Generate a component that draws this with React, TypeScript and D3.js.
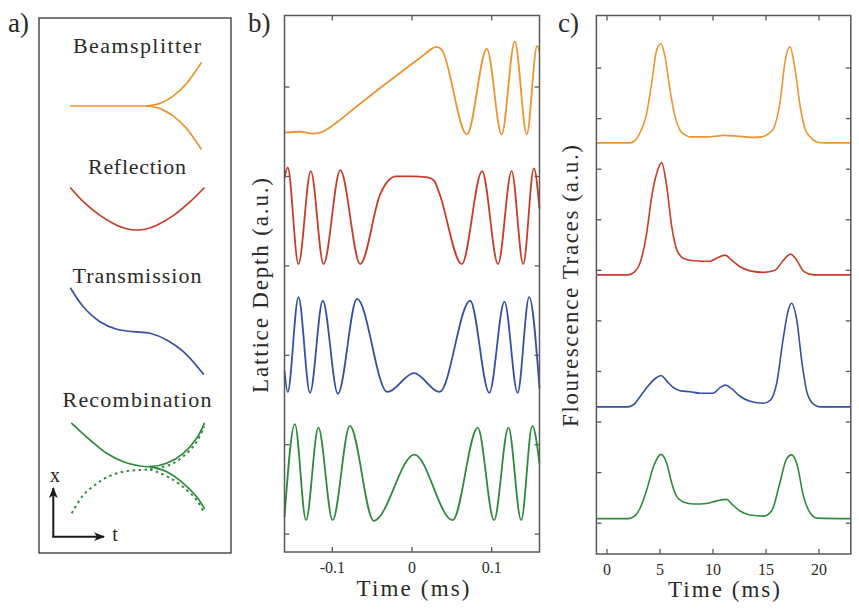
import React from "react";
import * as d3 from "d3";

type Pt = [number, number];

// ---------- Panel b: lattice depth traces (time in ms, depth in a.u.) ----------
const latticeTimeTicks = [-0.1, 0, 0.1];
const latticeTimeLabels = ["-0.1", "0", "0.1"];
const latticeDepthTicks = [0, 1, 2, 3, 4, 5];

const depthBeamsplitter: Pt[] = [
  [-0.16, 4.49], [-0.14, 4.5], [-0.125, 4.48], [-0.115, 4.49], [-0.108, 4.52], [-0.095, 4.6],
  [-0.07, 4.78], [-0.05, 4.92], [-0.025, 5.09], [0.0, 5.26], [0.015, 5.36],
  [0.025, 5.43], [0.031, 5.45], [0.037, 5.42], [0.069, 4.47], [0.094, 5.43],
  [0.1125, 4.47], [0.129, 5.51], [0.144, 4.47], [0.157, 5.46], [0.16, 5.4],
];
const depthReflection: Pt[] = [
  [-0.16, 3.98], [-0.156, 4.1], [-0.1425, 3.02], [-0.127, 4.06], [-0.111, 3.02],
  [-0.09, 4.07], [-0.065, 3.02], [-0.04, 3.8], [-0.03, 3.95], [-0.02, 4.0],
  [0.0, 4.0], [0.02, 3.99], [0.028, 3.95],
  [0.034, 3.82], [0.0625, 3.02], [0.088, 4.06], [0.108, 3.02], [0.125, 4.06],
  [0.1396, 3.02], [0.153, 4.09], [0.16, 3.64],
];
const depthTransmission: Pt[] = [
  [-0.16, 1.83], [-0.156, 1.59], [-0.1425, 2.65], [-0.128, 1.58], [-0.112, 2.61],
  [-0.093, 1.57], [-0.069, 2.63], [-0.031, 1.59], [0.0025, 1.8], [0.0346, 1.59],
  [0.073, 2.61], [0.097, 1.58], [0.116, 2.6], [0.1325, 1.58], [0.147, 2.65],
  [0.16, 1.63],
];
const depthRecombination: Pt[] = [
  [-0.16, 0.19], [-0.147, 1.23], [-0.133, 0.156], [-0.1175, 1.19], [-0.0996, 0.156],
  [-0.078, 1.21], [-0.048, 0.149], [0.003, 0.89], [0.051, 0.156], [0.0825, 1.19],
  [0.103, 0.156], [0.121, 1.19], [0.137, 0.156], [0.151, 1.21], [0.16, 0.79],
];

// ---------- Panel c: fluorescence traces (time in ms, signal in a.u.) ----------
const fluoTimeTicks = [0, 5, 10, 15, 20];
const fluoSignalTicks = [0, 1, 2, 3, 4, 5, 6, 7, 8, 9];

const fluoBeamsplitter: Pt[] = [
  [-1, 7.52], [1, 7.52], [2.2, 7.52], [2.7, 7.58], [3.2, 7.76], [3.74, 8.1],
  [4.21, 8.7], [4.69, 9.36], [5.1, 9.48], [5.47, 9.23], [5.94, 8.57], [6.42, 8.04],
  [6.89, 7.77], [7.36, 7.68], [7.83, 7.64], [9.5, 7.64], [10.5, 7.66], [11.0, 7.67],
  [12.0, 7.66], [13.0, 7.64], [14.0, 7.63], [14.6, 7.64], [15.07, 7.68], [15.7, 7.8],
  [16.32, 8.32], [16.79, 9.12], [17.26, 9.42], [17.74, 8.98], [18.21, 8.26],
  [18.68, 7.8], [19.15, 7.64], [19.78, 7.54], [20.5, 7.52], [23, 7.52],
];
const fluoReflection: Pt[] = [
  [-1, 4.91], [1, 4.91], [2.0, 4.91], [2.6, 4.97], [3.11, 5.14], [3.74, 5.73], [4.21, 6.45],
  [4.69, 6.92], [5.16, 7.13], [5.64, 6.65], [6.11, 5.86], [6.6, 5.4], [7.2, 5.24],
  [8.17, 5.19], [9.7, 5.18], [10.35, 5.24], [11.13, 5.3], [11.76, 5.2], [12.55, 5.07],
  [13.5, 4.99], [14.78, 4.96], [15.85, 5.0], [16.6, 5.19], [17.33, 5.32], [17.9, 5.2],
  [18.55, 4.98], [19.5, 4.91], [23, 4.91],
];
const fluoTransmission: Pt[] = [
  [-1, 2.3], [2.0, 2.3], [2.6, 2.36], [3.11, 2.5], [4.06, 2.76], [4.69, 2.88], [5.1, 2.92],
  [5.64, 2.81], [6.27, 2.68], [6.89, 2.62], [7.83, 2.6], [8.8, 2.57], [10.0, 2.57],
  [10.66, 2.68], [11.2, 2.73], [11.76, 2.66], [12.55, 2.51], [13.5, 2.41], [14.78, 2.37],
  [15.4, 2.43], [16.0, 2.76], [16.6, 3.62], [17.1, 4.21], [17.4, 4.35], [17.9, 4.02],
  [18.4, 3.16], [18.85, 2.6], [19.5, 2.35], [20.1, 2.3], [23, 2.3],
];
const fluoRecombination: Pt[] = [
  [-1, 0.09], [2.0, 0.09], [2.6, 0.14], [3.11, 0.29], [3.74, 0.65], [4.37, 1.11], [5.1, 1.36],
  [5.64, 1.18], [6.11, 0.79], [6.6, 0.52], [7.2, 0.42], [8.17, 0.38], [9.4, 0.39],
  [10.35, 0.44], [11.3, 0.47], [11.76, 0.38], [12.55, 0.24], [13.5, 0.16], [14.78, 0.14],
  [15.55, 0.25], [16.3, 0.79], [16.9, 1.25], [17.4, 1.35], [17.9, 1.18], [18.55, 0.52],
  [19.2, 0.19], [19.8, 0.1], [23, 0.09],
];

// ---------- Panel a: trajectory sketches (t from 0 to 1, displacement in units) ----------
const sketchSplitMain: Pt[] = [[0.005, 0], [0.573, 0]];
const sketchSplitUpper: Pt[] = [[0.573, 0], [0.67, 0.06], [0.767, 0.23], [0.864, 0.51], [0.976, 1.0]];
const sketchSplitLower: Pt[] = [[0.573, 0], [0.67, -0.06], [0.767, -0.23], [0.864, -0.51], [0.976, -1.0]];
const sketchReflection: Pt[] = [
  [0.005, 0.977], [0.099, 0.66], [0.223, 0.34], [0.348, 0.11], [0.42, 0.03], [0.497, 0],
  [0.575, 0.03], [0.646, 0.11], [0.771, 0.34], [0.895, 0.66], [0.998, 0.977],
];
const sketchTransmission: Pt[] = [
  [0.005, 1.01], [0.099, 0.58], [0.223, 0.233], [0.348, 0.056], [0.471, 0],
  [0.596, -0.037], [0.72, -0.193], [0.844, -0.465], [0.993, -0.984],
];
const sketchRecombUpper: Pt[] = [
  [0.013, 0.993], [0.149, 0.605], [0.273, 0.295], [0.397, 0.1], [0.521, 0],
  [0.596, -0.016], [0.72, 0.063], [0.844, 0.295], [0.943, 0.644], [1.0, 0.993],
];
const sketchRecombLower: Pt[] = [
  [0.596, -0.016], [0.72, -0.133], [0.844, -0.402], [0.943, -0.714], [1.0, -0.984],
];
const sketchMirrorArch: Pt[] = [
  [0.013, -1.1], [0.099, -0.674], [0.186, -0.442], [0.273, -0.263], [0.397, -0.133],
  [0.521, -0.093], [0.596, -0.081],
];
const sketchMirrorUpper: Pt[] = [
  [0.596, -0.081], [0.646, -0.053], [0.77, 0.063], [0.869, 0.295], [0.943, 0.565], [1.0, 0.914],
];
const sketchMirrorLower: Pt[] = [
  [0.596, -0.081], [0.646, -0.133], [0.77, -0.326], [0.869, -0.558], [0.943, -0.791], [1.0, -1.086],
];

const sketchLabels = ["Beamsplitter", "Reflection", "Transmission", "Recombination"];

const COLORS = ["#ED9431", "#C63D29", "#34509F", "#2E8A3D"];
const FRAME = "#585858";
const INK = "#2a2a2a";
const SERIF = '"Liberation Serif", serif';

export default function App() {
  // scales for panel b
  const xb = d3.scaleLinear().domain([-0.16, 0.16]).range([284.5, 539.5]);
  const yb = d3.scaleLinear().domain([-0.2, 5.8]).range([552, 15.5]);
  // scales for panel c
  const xc = d3.scaleLinear().domain([-1, 23]).range([596.4, 850.8]);
  const yc = d3.scaleLinear().domain([-0.61, 10.04]).range([554, 15.5]);
  // scales for panel a sketches
  const xs = d3.scaleLinear().domain([0, 1]).range([70, 204.3]);
  const sketchBase = [106, 230, 331.7, 466];
  const ys = sketchBase.map((b) => d3.scaleLinear().domain([-1, 1]).range([b + 43, b - 43]));
  const labelBaseline = [53, 174, 283, 407];
  const labelWidth = [128, 98, 129, 149];

  const lineB = d3.line<Pt>().x((d) => xb(d[0])).y((d) => yb(d[1])).curve(d3.curveMonotoneX);
  const lineC = d3.line<Pt>().x((d) => xc(d[0])).y((d) => yc(d[1])).curve(d3.curveMonotoneX);
  const sketchLine = (i: number) =>
    d3.line<Pt>().x((d) => xs(d[0])).y((d) => ys[i](d[1])).curve(d3.curveCatmullRom);

  const depthSeries = [depthBeamsplitter, depthReflection, depthTransmission, depthRecombination];
  const fluoSeries = [fluoBeamsplitter, fluoReflection, fluoTransmission, fluoRecombination];

  const tick = 5;

  const frame = (x0: number, x1: number, y0: number, y1: number) => (
    <rect x={x0} y={y0} width={x1 - x0} height={y1 - y0} fill="none" stroke={FRAME} strokeWidth={1.5} />
  );

  const bx0 = xb.range()[0], bx1 = xb.range()[1];
  const by0 = yb.range()[1], by1 = yb.range()[0];
  const cx0 = xc.range()[0], cx1 = xc.range()[1];
  const cy0 = yc.range()[1], cy1 = yc.range()[0];

  const txt = { fill: INK, fontWeight: 400 as const };

  return (
    <svg width={859} height={612}
      style={{ position: "absolute", left: 0, top: 0, background: "#fff", fontFamily: SERIF }}>
      <defs>
        <marker id="arrowHead" viewBox="0 0 10 10" refX={9} refY={5} markerWidth={11} markerHeight={11}
          markerUnits="userSpaceOnUse" orient="auto">
          <path d="M0,1 L10,5 L0,9 L2.5,5 Z" fill="#1a1a1a" />
        </marker>
      </defs>

      {/* panel letters */}
      <text x={8} y={32} fontSize={27} {...txt}>a)</text>
      <text x={248} y={32} fontSize={27} {...txt}>b)</text>
      <text x={558} y={32} fontSize={27} {...txt}>c)</text>

      {/* ---------- panel a ---------- */}
      <rect x={39} y={18} width={192} height={535} fill="none" stroke="#333" strokeWidth={1.3} />
      {sketchLabels.map((s, i) => (
        <text key={s} x={137} y={labelBaseline[i]} fontSize={22} textAnchor="middle"
          textLength={labelWidth[i]} lengthAdjust="spacing" {...txt}>{s}</text>
      ))}
      <g fill="none" strokeWidth={1.7} strokeLinecap="round">
        <path d={sketchLine(0)(sketchSplitMain) ?? ""} stroke={COLORS[0]} />
        <path d={sketchLine(0)(sketchSplitUpper) ?? ""} stroke={COLORS[0]} />
        <path d={sketchLine(0)(sketchSplitLower) ?? ""} stroke={COLORS[0]} />
        <path d={sketchLine(1)(sketchReflection) ?? ""} stroke={COLORS[1]} />
        <path d={sketchLine(2)(sketchTransmission) ?? ""} stroke={COLORS[2]} />
        <path d={sketchLine(3)(sketchRecombUpper) ?? ""} stroke={COLORS[3]} />
        <path d={sketchLine(3)(sketchRecombLower) ?? ""} stroke={COLORS[3]} />
      </g>
      <g fill="none" strokeWidth={2} stroke={COLORS[3]} strokeDasharray="2.5 3.5">
        <path d={sketchLine(3)(sketchMirrorArch) ?? ""} />
        <path d={sketchLine(3)(sketchMirrorUpper) ?? ""} />
        <path d={sketchLine(3)(sketchMirrorLower) ?? ""} />
      </g>
      {/* x–t axes glyph */}
      <g stroke="#1a1a1a" strokeWidth={2}>
        <line x1={53.3} y1={537} x2={53.3} y2={488} markerEnd="url(#arrowHead)" />
        <line x1={52.3} y1={536.7} x2={104} y2={536.7} markerEnd="url(#arrowHead)" />
      </g>
      <text x={55} y={482} fontSize={20} textAnchor="middle" {...txt}>x</text>
      <text x={115} y={541} fontSize={20} textAnchor="middle" {...txt}>t</text>

      {/* ---------- panel b ---------- */}
      <g stroke={FRAME} strokeWidth={1.3}>
        {latticeTimeTicks.map((t) => (
          <g key={"bt" + t}>
            <line x1={xb(t)} x2={xb(t)} y1={by0} y2={by0 + tick} />
            <line x1={xb(t)} x2={xb(t)} y1={by1} y2={by1 - tick} />
          </g>
        ))}
        {latticeDepthTicks.map((v) => (
          <g key={"bv" + v}>
            <line x1={bx0} x2={bx0 + tick} y1={yb(v)} y2={yb(v)} />
            <line x1={bx1} x2={bx1 - tick} y1={yb(v)} y2={yb(v)} />
          </g>
        ))}
      </g>
      <g fill="none" strokeWidth={1.8} strokeLinejoin="round">
        {depthSeries.map((s, i) => (
          <path key={"b" + i} d={lineB(s) ?? ""} stroke={COLORS[i]} />
        ))}
      </g>
      {frame(bx0, bx1, by0, by1)}
      {latticeTimeTicks.map((t, i) => (
        <text key={"btl" + t} x={xb(t)} y={573} fontSize={16} textAnchor="middle" {...txt}>
          {latticeTimeLabels[i]}
        </text>
      ))}
      <text x={413} y={596} fontSize={23} textAnchor="middle" textLength={113}
        lengthAdjust="spacing" {...txt}>Time (ms)</text>
      <text transform="translate(268,285.5) rotate(-90)" fontSize={23} textAnchor="middle"
        textLength={215} lengthAdjust="spacing" {...txt}>Lattice Depth (a.u.)</text>

      {/* ---------- panel c ---------- */}
      <g stroke={FRAME} strokeWidth={1.3}>
        {fluoTimeTicks.map((t) => (
          <g key={"ct" + t}>
            <line x1={xc(t)} x2={xc(t)} y1={cy0} y2={cy0 + tick} />
            <line x1={xc(t)} x2={xc(t)} y1={cy1} y2={cy1 - tick} />
          </g>
        ))}
        {fluoSignalTicks.map((v) => (
          <g key={"cv" + v}>
            <line x1={cx0} x2={cx0 + tick} y1={yc(v)} y2={yc(v)} />
            <line x1={cx1} x2={cx1 - tick} y1={yc(v)} y2={yc(v)} />
          </g>
        ))}
      </g>
      <g fill="none" strokeWidth={1.6} strokeLinejoin="round">
        {fluoSeries.map((s, i) => (
          <path key={"c" + i} d={lineC(s) ?? ""} stroke={COLORS[i]} />
        ))}
      </g>
      {frame(cx0, cx1, cy0, cy1)}
      {fluoTimeTicks.map((t) => (
        <text key={"ctl" + t} x={xc(t)} y={575} fontSize={16} textAnchor="middle" {...txt}>
          {String(t)}
        </text>
      ))}
      <text x={724} y={597} fontSize={23} textAnchor="middle" textLength={112}
        lengthAdjust="spacing" {...txt}>Time (ms)</text>
      <text transform="translate(578,286) rotate(-90)" fontSize={23} textAnchor="middle"
        textLength={282} lengthAdjust="spacing" {...txt}>Flourescence Traces (a.u.)</text>
    </svg>
  );
}
